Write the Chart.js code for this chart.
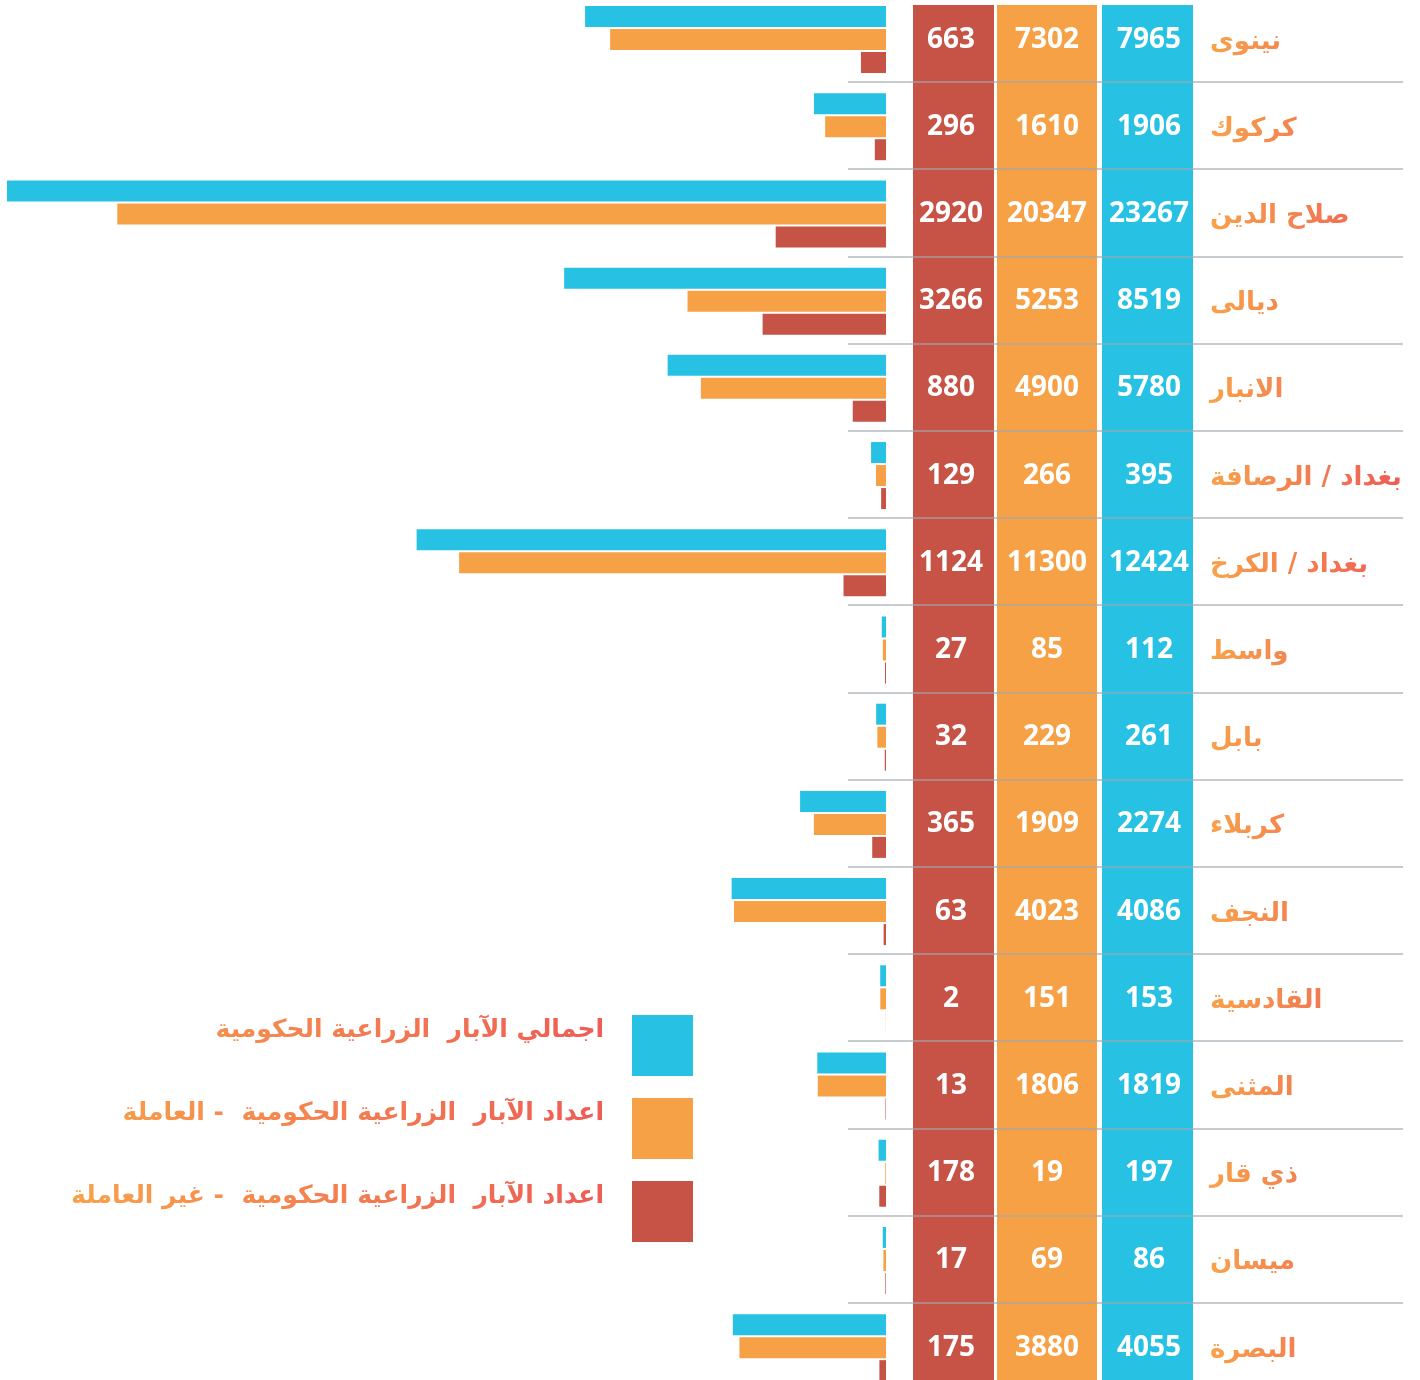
<!DOCTYPE html>
<html lang="ar">
<head>
<meta charset="utf-8">
<title>الآبار الزراعية الحكومية</title>
<script src="https://cdn.jsdelivr.net/npm/chart.js@4.4.1/dist/chart.umd.min.js"></script>
<style>
  html, body { margin: 0; padding: 0; background: #fff; }
  #wells { display: block; }
</style>
</head>
<body>
<canvas id="wells" width="1420" height="1380"></canvas>
<script>
const PROVINCES = [
  "نينوى", "كركوك", "صلاح الدين", "ديالى", "الانبار", "بغداد / الرصافة", "بغداد / الكرخ", "واسط",
  "بابل", "كربلاء", "النجف", "القادسية", "المثنى", "ذي قار", "ميسان", "البصرة"
];
const TOTAL_WELLS = [7965, 1906, 23267, 8519, 5780, 395, 12424, 112, 261, 2274, 4086, 153, 1819, 197, 86, 4055];
const WORKING_WELLS = [7302, 1610, 20347, 5253, 4900, 266, 11300, 85, 229, 1909, 4023, 151, 1806, 19, 69, 3880];
const IDLE_WELLS = [663, 296, 2920, 3266, 880, 129, 1124, 27, 32, 365, 63, 2, 13, 178, 17, 175];
const SERIES_LABELS = [
  "اجمالي الآبار  الزراعية الحكومية",
  "اعداد الآبار  الزراعية الحكومية  - العاملة",
  "اعداد الآبار  الزراعية الحكومية  - غير العاملة"
];

const COLORS = { total: "#27C1E3", working: "#F7A147", idle: "#C65346" };
const TEXT_ORANGE = "#F8A24A";
const TEXT_CORAL = "#EE5C56";
const ROW_PITCH = 87.21;
const FIRST_ROW = 39.5;
const HEIGHT = 1380;

// table columns, left to right: idle, working, total
const COLUMNS = [
  { series: IDLE_WELLS, color: COLORS.idle, left: 913, right: 994, textX: 951 },
  { series: WORKING_WELLS, color: COLORS.working, left: 997, right: 1097, textX: 1047 },
  { series: TOTAL_WELLS, color: COLORS.total, left: 1102, right: 1193, textX: 1149 }
];

const tablePlugin = {
  id: "wellsTable",
  beforeDatasetsDraw(chart) {
    const ctx = chart.ctx;
    ctx.save();
    COLUMNS.forEach(col => {
      ctx.fillStyle = col.color;
      ctx.fillRect(col.left, 5, col.right - col.left, HEIGHT - 5);
    });
    ctx.restore();
  },
  afterDatasetsDraw(chart) {
    const ctx = chart.ctx;
    const y = chart.scales.y;
    ctx.save();

    // row separators
    ctx.fillStyle = "rgba(160,168,176,0.6)";
    for (let i = 0; i < PROVINCES.length - 1; i++) {
      const sy = y.getPixelForValue(i + 0.5);
      ctx.fillRect(848, Math.round(sy) - 2, 555, 2);
    }

    // values in the columns
    ctx.fillStyle = "#fff";
    ctx.font = 'bold 28px "Noto Sans"';
    ctx.textAlign = "center";
    ctx.textBaseline = "alphabetic";
    PROVINCES.forEach((_, i) => {
      const cy = y.getPixelForValue(i);
      COLUMNS.forEach(col => {
        ctx.fillText(String(col.series[i]), col.textX, cy + 8);
      });
    });

    // province names
    ctx.direction = "rtl";
    ctx.textAlign = "left";
    ctx.font = 'bold 26px "DejaVu Sans"';
    const nameGrad = ctx.createLinearGradient(1210, 0, 1400, 0);
    nameGrad.addColorStop(0, TEXT_ORANGE);
    nameGrad.addColorStop(1, TEXT_CORAL);
    ctx.fillStyle = nameGrad;
    PROVINCES.forEach((name, i) => {
      ctx.fillText(name, 1210, y.getPixelForValue(i) + 9);
    });

    // legend
    const swatches = [COLORS.total, COLORS.working, COLORS.idle];
    const legendGrad = ctx.createLinearGradient(70, 0, 604, 0);
    legendGrad.addColorStop(0, TEXT_ORANGE);
    legendGrad.addColorStop(1, TEXT_CORAL);
    ctx.textAlign = "right";
    ctx.font = 'bold 25px "DejaVu Sans"';
    SERIES_LABELS.forEach((label, i) => {
      const top = 1015 + i * 83;
      ctx.fillStyle = swatches[i];
      ctx.fillRect(632, top, 61, 61);
      ctx.fillStyle = legendGrad;
      ctx.fillText(label, 604, top + 22);
    });

    ctx.restore();
  }
};

function barSeries(label, values, color) {
  return {
    label,
    data: values.map((v, i) => ({ x: v, y: i })),
    backgroundColor: color,
    borderWidth: 0,
    categoryPercentage: 69 / ROW_PITCH,
    barPercentage: 21 / 23
  };
}

const yMin = -FIRST_ROW / ROW_PITCH;

new Chart(document.getElementById("wells"), {
  type: "bar",
  data: {
    datasets: [
      barSeries(SERIES_LABELS[0], TOTAL_WELLS, COLORS.total),
      barSeries(SERIES_LABELS[1], WORKING_WELLS, COLORS.working),
      barSeries(SERIES_LABELS[2], IDLE_WELLS, COLORS.idle)
    ]
  },
  options: {
    indexAxis: "y",
    responsive: false,
    animation: false,
    devicePixelRatio: 1,
    layout: { padding: { left: 7, right: 534, top: 0, bottom: 0 } },
    plugins: { legend: { display: false }, tooltip: { enabled: false } },
    scales: {
      x: { type: "linear", reverse: true, min: 0, max: Math.max(...TOTAL_WELLS), display: false },
      y: {
        type: "linear",
        reverse: true,
        offset: false,
        min: yMin,
        max: yMin + HEIGHT / ROW_PITCH,
        ticks: { stepSize: 1, maxTicksLimit: 20, includeBounds: false },
        display: false
      }
    }
  },
  plugins: [tablePlugin]
});
</script>
</body>
</html>
